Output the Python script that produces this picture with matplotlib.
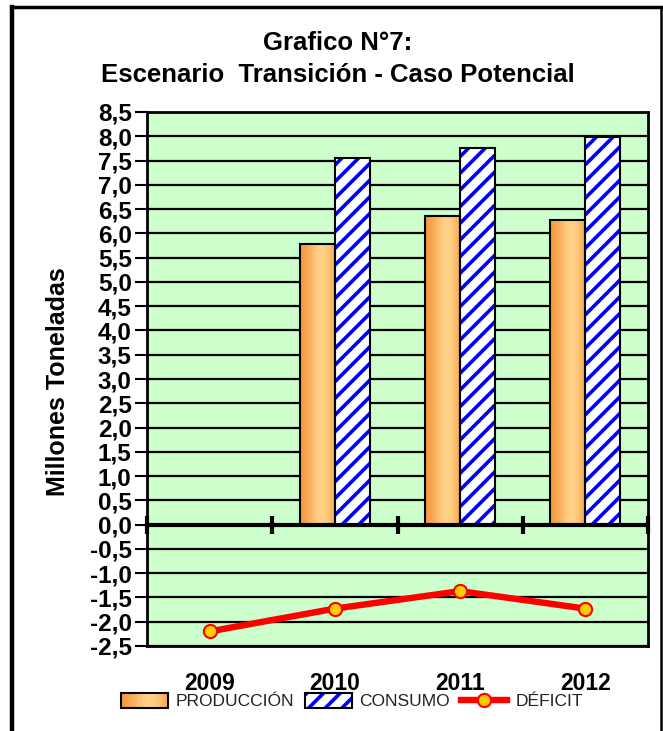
import numpy as np
import matplotlib
matplotlib.use("Agg")
import matplotlib.pyplot as plt
from matplotlib.lines import Line2D
from matplotlib.patches import Patch, Rectangle
from matplotlib.legend_handler import HandlerPatch

# ---------------- data ----------------
years = ["2009", "2010", "2011", "2012"]
produccion = [np.nan, 5.78, 6.36, 6.28]
consumo = [np.nan, 7.55, 7.75, 7.98]
deficit = [-2.20, -1.73, -1.37, -1.73]
yticks = np.arange(-2.5, 8.51, 0.5)
title = "Grafico N°7:\nEscenario  Transición - Caso Potencial"
ylabel = "Millones Toneladas"
legend_labels = ["PRODUCCIÓN", "CONSUMO", "DÉFICIT"]

plt.rcParams['font.family'] = ['Liberation Sans', 'DejaVu Sans']
plt.rcParams['hatch.linewidth'] = 2.6

W, H = 663, 731
fig = plt.figure(figsize=(W / 100, H / 100), dpi=100)
fig.patch.set_facecolor('white')

ax = fig.add_axes([147 / W, 1 - 646 / H, (648 - 147) / W, (646 - 112) / H])
ax.set_facecolor('#CCFFCC')
ax.set_ylim(-2.5, 8.5)
ax.set_xlim(-0.5, len(years) - 0.5)

# grid
for yv in yticks:
    if abs(yv) > 1e-9:
        ax.axhline(yv, color='black', lw=1.6, zorder=1)

x = np.arange(len(years))
bw = 0.28

# gradient colors
c_dark = np.array([0.96, 0.58, 0.22])
c_light = np.array([1.0, 0.82, 0.53])
grad = np.linspace(0, 1, 200)
prof = np.exp(-((grad - 0.6) / 0.38) ** 2)
cols = c_dark[None, :] * (1 - prof[:, None]) + c_light[None, :] * prof[:, None]
gimg = cols[None, :, :]

bars_p = ax.bar(x - bw / 2, produccion, bw, facecolor='none', edgecolor='black',
                lw=1.5, zorder=3)
for b in bars_p:
    h = b.get_height()
    if np.isnan(h):
        continue
    im = ax.imshow(gimg, extent=[b.get_x(), b.get_x() + b.get_width(), 0, h],
                   aspect='auto', zorder=2.5, interpolation='bilinear')
    im.set_clip_path(b)

# hatched consumption bars: blue hatch, black outline
ax.bar(x + bw / 2, consumo, bw, facecolor='white', edgecolor='#0000FF',
       hatch='//', lw=0, zorder=2.8)
ax.bar(x + bw / 2, consumo, bw, facecolor='none', edgecolor='black',
       lw=1.5, zorder=3)

ax.plot(x, deficit, color='#FF0000', lw=4.6, marker='o', ms=9.5,
        markerfacecolor='#FFCC00', markeredgecolor='#FF0000', markeredgewidth=1.5,
        zorder=5)

# zero axis line with category separators
ax.axhline(0, color='black', lw=3, zorder=4)
for xv in np.arange(-0.5, len(years), 1.0):
    ax.plot([xv, xv], [-0.2, 0.17], color='black', lw=3, zorder=4, clip_on=False,
            solid_capstyle='butt')

ax.set_yticks(yticks)
ax.set_yticklabels([f"{v:.1f}".replace('.', ',') for v in yticks],
                   fontsize=17.5, fontweight='bold')
ax.tick_params(axis='y', length=9, width=1.5, pad=2)
ax.set_xticks(x)
ax.set_xticklabels(years, fontsize=16.5, fontweight='bold')
ax.tick_params(axis='x', length=0, pad=19)
for s in ax.spines.values():
    s.set_linewidth(2)
    s.set_zorder(6)

fig.text(58 / W, 1 - 382 / H, ylabel, rotation=90, ha='center', va='center',
         fontsize=18, fontweight='bold')
fig.text(338 / W, 1 - 59 / H, title, ha='center', va='center', fontsize=18.5,
         fontweight='bold', linespacing=1.38)

# outer frame
fig.add_artist(Line2D([12 / W, 12 / W], [0, 1 - 7 / H], color='black', lw=3.2,
                      transform=fig.transFigure))
fig.add_artist(Line2D([12 / W, 661 / W], [1 - 7 / H, 1 - 7 / H], color='black', lw=2.5,
                      transform=fig.transFigure))
fig.add_artist(Line2D([661 / W, 661 / W], [0, 1 - 7 / H], color='black', lw=1.8,
                      transform=fig.transFigure))

# legend
class GradHandler(HandlerPatch):
    def create_artists(self, legend, orig_handle, xdescent, ydescent, width, height,
                       fontsize, trans):
        arts = []
        n = 30
        for i in range(n):
            t = (i + 0.5) / n
            pr = np.exp(-((t - 0.6) / 0.38) ** 2)
            c = c_dark * (1 - pr) + c_light * pr
            r = Rectangle((-xdescent + width * i / n, -ydescent), width / n + 0.3, height,
                          facecolor=c, edgecolor='none', transform=trans)
            arts.append(r)
        arts.append(Rectangle((-xdescent, -ydescent), width, height, facecolor='none',
                              edgecolor='black', lw=1.5, transform=trans))
        return arts


class HatchHandler(HandlerPatch):
    def create_artists(self, legend, orig_handle, xdescent, ydescent, width, height,
                       fontsize, trans):
        r1 = Rectangle((-xdescent, -ydescent), width, height, facecolor='white',
                       edgecolor='#0000FF', hatch='//', lw=0, transform=trans)
        r2 = Rectangle((-xdescent, -ydescent), width, height, facecolor='none',
                       edgecolor='black', lw=1.5, transform=trans)
        return [r1, r2]


h_prod = Patch(facecolor='#FBB460', edgecolor='black')
h_cons = Patch(facecolor='white', edgecolor='black')
h_def = Line2D([], [], color='#FF0000', lw=4.6, marker='o', ms=9.5,
               markerfacecolor='#FFCC00', markeredgecolor='#FF0000', markeredgewidth=1.5)
leg = fig.legend([h_prod, h_cons, h_def], legend_labels, loc='center',
                 bbox_to_anchor=(352 / W, 1 - 701 / H), ncol=3, frameon=False,
                 prop={'family': ['Liberation Sans Narrow', 'Liberation Sans'], 'size': 12.5},
                 handlelength=2.7, handleheight=0.95, handletextpad=0.45,
                 columnspacing=0.6, borderpad=0,
                 handler_map={h_prod: GradHandler(), h_cons: HatchHandler()})
for t in leg.get_texts():
    t.set_color('#222222')

fig.savefig('out.png', dpi=100)
